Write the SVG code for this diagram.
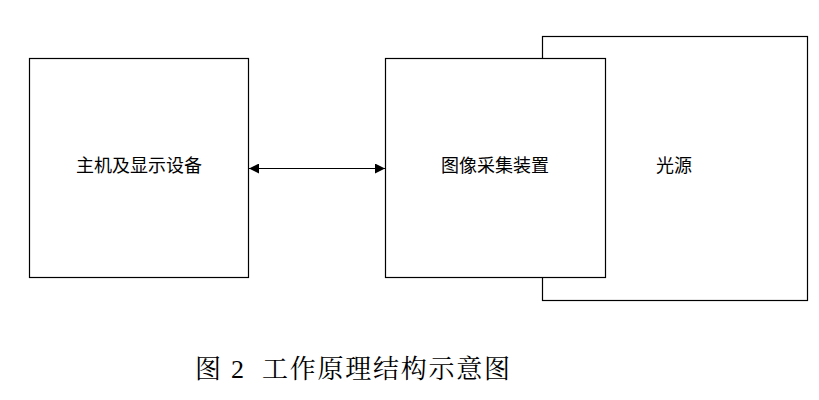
<svg xmlns="http://www.w3.org/2000/svg" width="819" height="400" viewBox="0 0 819 400">
<style>
.box{fill:#fff;stroke:#000;stroke-width:1.2}
.t{font-family:"Liberation Sans","Noto Sans CJK SC",sans-serif;font-size:18px;fill:#000;text-anchor:middle;dominant-baseline:central}
.cap{font-family:"Liberation Serif","Noto Serif CJK SC","Noto Sans CJK SC",serif;font-size:26px;fill:#000}
</style>
<defs>
<marker id="ah" viewBox="0 0 10 10" refX="10" refY="5" markerWidth="11" markerHeight="10" markerUnits="userSpaceOnUse" orient="auto-start-reverse">
<path d="M0,0 L10,5 L0,10 z" fill="#000"/>
</marker>
</defs>
<rect width="819" height="400" fill="#fff"/>
<g id="light"><rect class="box" x="542.5" y="36.5" width="265" height="264"/><text class="t" x="674" y="166">光源</text></g>
<g id="host"><rect class="box" x="29.5" y="58.5" width="219" height="219"/><text class="t" x="139" y="166">主机及显示设备</text></g>
<g id="camera"><rect class="box" x="385.5" y="58.5" width="220" height="219"/><text class="t" x="495" y="166">图像采集装置</text></g>
<g id="connectors"><line x1="249" y1="168.5" x2="385" y2="168.5" stroke="#000" stroke-width="1.2" marker-start="url(#ah)" marker-end="url(#ah)"/></g>
<text class="cap" x="195" y="378" xml:space="preserve" textLength="315" lengthAdjust="spacing">图 2  工作原理结构示意图</text>
</svg>
